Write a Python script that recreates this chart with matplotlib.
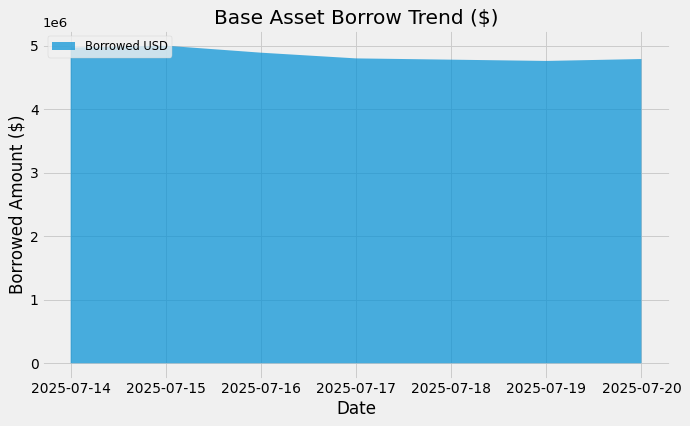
import matplotlib
matplotlib.use("Agg")
import matplotlib.pyplot as plt
import pandas as pd

# daily borrowed amounts
dates = pd.to_datetime(["2025-07-14", "2025-07-15", "2025-07-16", "2025-07-17",
                        "2025-07-18", "2025-07-19", "2025-07-20"])
borrowed_usd = [4.97e6, 5.00e6, 4.89e6, 4.80e6, 4.78e6, 4.76e6, 4.79e6]

plt.style.use("fivethirtyeight")
fig, ax = plt.subplots(figsize=(10, 6.174), dpi=69)

ax.fill_between(dates, borrowed_usd, alpha=0.7, label="Borrowed USD")

ax.set_title("Base Asset Borrow Trend ($)", fontsize=21)
ax.set_xlabel("Date", fontsize=17.5)
ax.set_ylabel("Borrowed Amount ($)", fontsize=17.5)
ax.tick_params(labelsize=14.5)
ax.legend(loc="upper left", fontsize=12)

fig.subplots_adjust(left=0.061, right=0.971, top=0.93, bottom=0.11)
fig.savefig("out.png", dpi=69)
